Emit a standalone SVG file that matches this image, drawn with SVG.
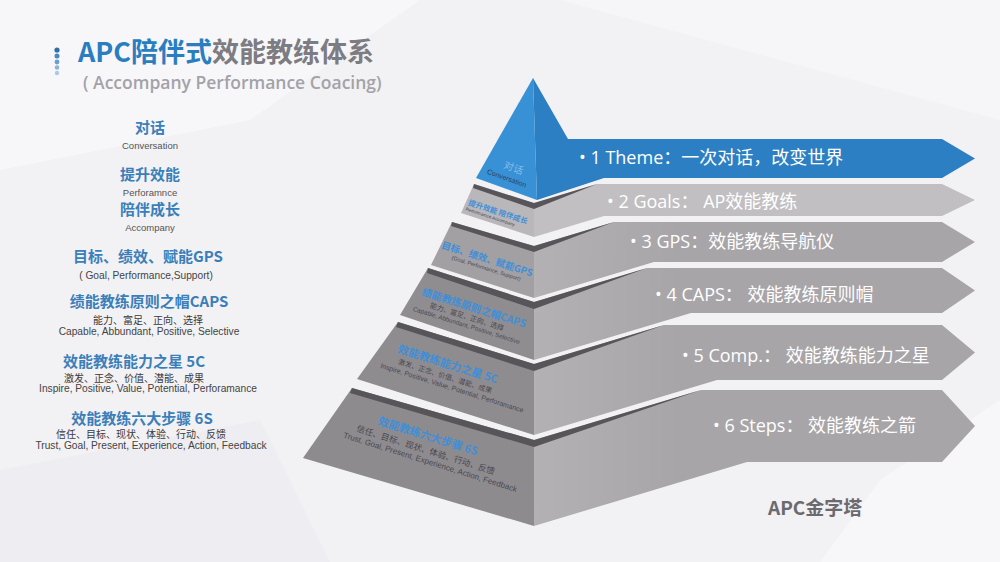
<svg xmlns="http://www.w3.org/2000/svg" width="1000" height="562" viewBox="0 0 1000 562">
<defs>
<style>
.cjk{font-family:"Noto Sans CJK SC","Noto Sans",sans-serif}
.hd{font-family:"Noto Sans CJK SC",sans-serif;font-weight:700;font-size:15px;fill:#3a7fb9;text-anchor:middle}
.sub{font-family:"Noto Sans CJK SC",sans-serif;font-size:10px;fill:#3a3a3a;text-anchor:middle}
.en{font-family:"Liberation Sans",Arial,sans-serif;font-size:10.2px;fill:#444;text-anchor:middle}
.bt{font-family:"Open Sans","Noto Sans CJK SC",sans-serif;font-size:18px;fill:#ffffff}
.strip{fill:#58555a}
.ft{font-family:"Noto Sans CJK SC",sans-serif;font-weight:700;fill:#3d8fd9;text-anchor:middle}
.fs{font-family:"Liberation Sans","Noto Sans CJK SC",sans-serif;fill:#4a4850;text-anchor:middle}
</style>
<linearGradient id="rf" gradientUnits="userSpaceOnUse" x1="534" y1="0" x2="680" y2="0">
<stop offset="0" stop-color="#b3b1b4"/><stop offset="1" stop-color="#a8a5a9"/>
</linearGradient>
</defs>
<rect width="1000" height="562" fill="#f2f1f4"/>
<polygon points="0,0 420,0 250,120 0,170" fill="#f7f7f9"/>
<polygon points="560,0 1000,0 1000,120 780,60" fill="#f6f5f8"/>
<polygon points="0,470 260,420 330,562 0,562" fill="#eeedf1"/>
<polygon points="880,480 1000,400 1000,562 820,562" fill="#f7f6f9"/>

<g id="title">
<circle cx="57" cy="50" r="2.6" fill="#2a6fa8"/>
<circle cx="57" cy="56" r="2.5" fill="#4a88bd"/>
<circle cx="57" cy="62" r="2.4" fill="#6a9fcc"/>
<circle cx="57" cy="67.5" r="2.3" fill="#8ab5da"/>
<circle cx="57" cy="73" r="2.2" fill="#a9c9e6"/>
<text x="78" y="62" class="cjk" font-size="27" font-weight="700"><tspan fill="#2a7ec0">APC陪伴式</tspan><tspan fill="#7d7c82">效能教练体系</tspan></text>
<text x="83" y="89" font-family="Open Sans, sans-serif" font-size="17.5" font-weight="600" fill="#a3a2a8">( Accompany Performance Coacing)</text>
</g>

<g id="legend">
<text x="150" y="133" class="hd">对话</text>
<text x="150" y="148.5" class="en" style="font-size:9.5px;fill:#555">Conversation</text>
<text x="150" y="180" class="hd">提升效能</text>
<text x="150" y="195.5" class="en" style="font-size:9.5px;fill:#555">Perforamnce</text>
<text x="150" y="215" class="hd">陪伴成长</text>
<text x="150" y="230.5" class="en" style="font-size:9.5px;fill:#555">Accompany</text>
<text x="148" y="262" class="hd">目标、绩效、赋能GPS</text>
<text x="146" y="279" class="en">( Goal, Performance,Support)</text>
<text x="149" y="307" class="hd">绩能教练原则之帽CAPS</text>
<text x="148" y="324" class="sub">能力、富足、正向、选择</text>
<text x="149" y="335" class="en">Capable, Abbundant, Positive, Selective</text>
<text x="134" y="366.5" class="hd">效能教练能力之星 5C</text>
<text x="134" y="381.5" class="sub">激发、正念、价值、潜能、成果</text>
<text x="148" y="391.5" class="en">Inspire, Positive, Value, Potential, Perforamance</text>
<text x="142" y="423.5" class="hd">效能教练六大步骤 6S</text>
<text x="141" y="437.5" class="sub">信任、目标、现状、体验、行动、反馈</text>
<text x="151" y="448.5" class="en">Trust, Goal, Present, Experience, Action, Feedback</text>
</g>

<g id="tier6">
<polygon points="534,440 701,390 942,390 975,426 942,462 747,462 534,526" fill="url(#rf)"/>
<polygon points="352,388 534,440 534,526 303,458" fill="#8e8b8f"/>
<polygon points="352,388 534,440 534,447 350,393" class="strip"/>
<polygon points="534,440 701,390 534,447" class="strip"/>
<g transform="translate(428,436) rotate(17.5)">
<text x="0" y="4" class="ft" font-size="11">效能教练六大步骤 6S</text>
<text x="2" y="17" class="fs" font-size="8.5">信任、目标、现状、体验、行动、反馈</text>
<text x="10" y="27" class="fs" font-size="8">Trust, Goal, Present, Experience, Action, Feedback</text>
</g>
<text x="713" y="432" class="bt">• 6 Steps： 效能教练之箭</text>
</g>

<g id="tier5">
<polygon points="534,364 664,325 942,325 975,352.5 942,380 717,380 534,435" fill="url(#rf)"/>
<polygon points="398,322 534,364 534,435 357,379" fill="#8f8c90"/>
<polygon points="398,322 534,364 534,371 396,327" class="strip"/>
<polygon points="534,364 664,325 534,371" class="strip"/>
<g transform="translate(448,364) rotate(17.5)">
<text x="0" y="4" class="ft" font-size="11">效能教练能力之星 5C</text>
<text x="1" y="15" class="fs" font-size="7">激发、正念、价值、潜能、成果</text>
<text x="11" y="24" class="fs" font-size="7">Inspire, Positive, Value, Potential, Perforamance</text>
</g>
<text x="682" y="362" class="bt">• 5 Comp.： 效能教练能力之星</text>
</g>

<g id="tier4">
<polygon points="534,302 647,268 942,268 975,290.5 942,313 691,313 534,360" fill="url(#rf)"/>
<polygon points="428,268 534,302 534,360 400,315" fill="#908d91"/>
<polygon points="428,268 534,302 534,309 427,273" class="strip"/>
<polygon points="534,302 647,268 534,309" class="strip"/>
<g transform="translate(474,308) rotate(17.5)">
<text x="0" y="3.5" class="ft" font-size="10.3">绩能教练原则之帽CAPS</text>
<text x="-4" y="13" class="fs" font-size="7">能力、富足、正向、选择</text>
<text x="-2" y="21" class="fs" font-size="6.3">Capable, Abbundant, Positive, Selective</text>
</g>
<text x="655" y="301" class="bt">• 4 CAPS： 效能教练原则帽</text>
</g>

<g id="tier3">
<polygon points="534,246 614,222 942,222 975,242 942,262 654,262 534,298" fill="url(#rf)"/>
<polygon points="452,222 534,246 534,298 431,265" fill="#a3a0a4"/>
<polygon points="452,222 534,246 534,252 451,226" class="strip"/>
<polygon points="534,246 614,222 534,252" class="strip"/>
<g transform="translate(487,259) rotate(17.5)">
<text x="0" y="3.3" class="ft" font-size="9.5">目标、绩效、赋能GPS</text>
<text x="2" y="11" class="fs" font-size="5.5">(Goal, Performance, Support)</text>
</g>
<text x="630" y="248" class="bt">• 3 GPS：效能教练导航仪</text>
</g>

<g id="tier2">
<polygon points="534,203 597,184 942,184 975,200 942,216 604,216 534,237" fill="#c1bfc2"/>
<polygon points="474,184 534,203 534,237 461,213" fill="#b9b7ba"/>
<polygon points="474,184 534,203 534,209 473,188" class="strip"/>
<polygon points="534,203 597,184 534,209" class="strip"/>
<g transform="translate(498,212) rotate(18)">
<text x="0" y="2.6" class="ft" font-size="7.5">提升效能  陪伴成长</text>
<text x="-6" y="8.5" class="fs" font-size="4.5">Performamce   Accompany</text>
</g>
<text x="607" y="208" class="bt">• 2 Goals： AP效能教练</text>
</g>

<g id="tier1">
<polygon points="533,78 568,139 942,139 975,158.5 942,178 604,178 537,200" fill="#2c7fc2"/>
<polygon points="533,78 537,200 476,178" fill="#3891d5"/>
<g transform="translate(509,172) rotate(20)">
<text x="3" y="-2" class="ft" font-size="10" style="fill:#86bbe8;font-weight:400">对话</text>
<text x="0" y="9" class="fs" font-size="7" style="fill:#2c3d5c">Conversation</text>
</g>
<text x="579" y="164" class="bt">• 1 Theme：一次对话，改变世界</text>
</g>

<g id="caption">
<text x="768" y="515" class="cjk" font-size="19" font-weight="700" fill="#6c6a6f">APC金字塔</text>
</g>
</svg>
